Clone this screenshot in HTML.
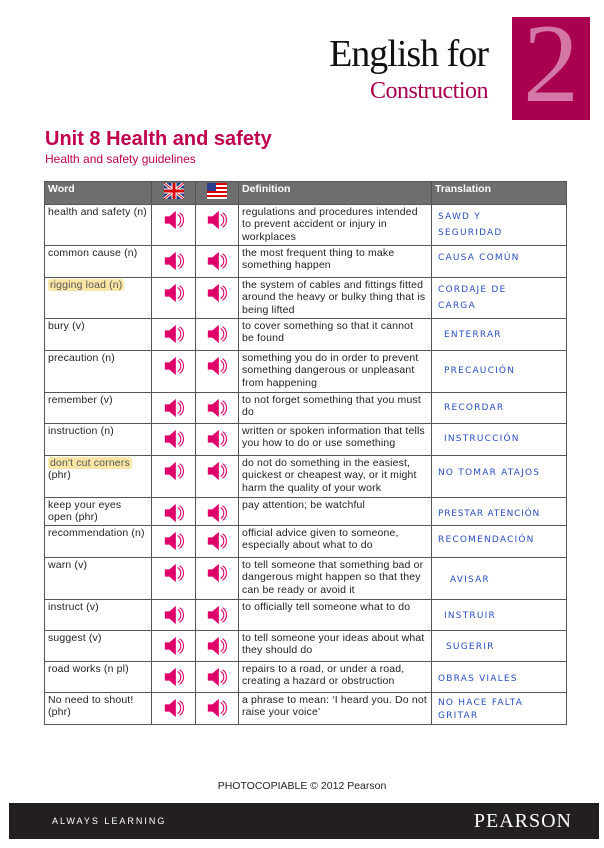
<!DOCTYPE html>
<html><head><meta charset="utf-8"><style>
body{margin:0;width:604px;height:848px;background:#fff;position:relative;font-family:"Liberation Sans",sans-serif;overflow:hidden}
.a{position:absolute}
table{position:absolute;left:44px;top:181px;border-collapse:collapse;width:522px;table-layout:fixed;font-size:10.5px;color:#222}
td,th{border:1.5px solid #555;vertical-align:top;padding:1px 3px;line-height:12.6px;text-align:left;overflow:hidden}
td{letter-spacing:0.15px}
th{background:#6d6e70;color:#fff;font-size:10.5px;height:19px;padding:1px 3px}
td.s{text-align:center;padding:3px 0 0;line-height:0}
.h{color:#2a4fc0;font-family:"DejaVu Sans",sans-serif;font-size:9px;letter-spacing:1.2px;line-height:16px;padding-left:6px;padding-top:4px}
.hl{background:#fbe6a6;border-radius:3px;padding:0 2px;color:#555}
</style></head><body>
<div class="a" style="left:512px;top:17px;width:78px;height:103px;background:#a8004f"></div>
<div class="a" style="left:514px;top:8px;width:74px;font-family:'Liberation Serif',serif;font-size:112px;line-height:112px;color:#d477a6;text-align:center">2</div>
<div class="a" style="left:300px;top:32px;width:188px;text-align:right;font-family:'Liberation Serif',serif;font-size:38px;color:#111;letter-spacing:-1px">English for</div>
<div class="a" style="left:300px;top:78px;width:188px;text-align:right;font-family:'Liberation Serif',serif;font-size:24px;color:#a8004f;letter-spacing:-0.5px">Construction</div>
<div class="a" style="left:45px;top:128px;font-size:20px;font-weight:bold;color:#c0004f">Unit 8 Health and safety</div>
<div class="a" style="left:45px;top:152px;font-size:12px;color:#c0004f">Health and safety guidelines</div>
<svg width="0" height="0" style="position:absolute"><defs><symbol id="sp" viewBox="0 0 24 24"><path d="M2 8h5l7-6v20l-7-6H2z" fill="#e0006a"/><path d="M16 6a7 7 0 0 1 0 12M18 4a9.5 9.5 0 0 1 0 16" fill="none" stroke="#e0006a" stroke-width="1.2"/></symbol></defs></svg>
<table>
<colgroup><col style="width:107px"><col style="width:44px"><col style="width:43px"><col style="width:193px"><col style="width:135px"></colgroup>
<tr><th>Word</th><th style="text-align:center"><svg width="20" height="16"><rect width="20" height="16" fill="#1b3a8c"/><path d="M0 0L20 16M20 0L0 16" stroke="#fff" stroke-width="3"/><path d="M0 0L20 16M20 0L0 16" stroke="#d00" stroke-width="1"/><path d="M10 0V16M0 8H20" stroke="#fff" stroke-width="5"/><path d="M10 0V16M0 8H20" stroke="#d00" stroke-width="3"/></svg></th><th style="text-align:center"><svg width="20" height="16"><rect width="20" height="16" fill="#fff"/><g fill="#d00"><rect y="0" width="20" height="2"/><rect y="4" width="20" height="2"/><rect y="8" width="20" height="2"/><rect y="12" width="20" height="2"/></g><rect width="9" height="8" fill="#2a3d8f"/></svg></th><th>Definition</th><th>Translation</th></tr>
<tr style="height:41px"><td>health and safety (n)</td><td class="s"><svg width="22" height="24"><use href="#sp"/></svg></td><td class="s"><svg width="22" height="24"><use href="#sp"/></svg></td><td>regulations and procedures intended to prevent accident or injury in workplaces</td><td class="h">SAWD Y<br>SEGURIDAD</td></tr>
<tr style="height:32px"><td>common cause (n)</td><td class="s"><svg width="22" height="24"><use href="#sp"/></svg></td><td class="s"><svg width="22" height="24"><use href="#sp"/></svg></td><td>the most frequent thing to make something happen</td><td class="h">CAUSA COMÚN</td></tr>
<tr style="height:41px"><td><span class="hl">rigging load (n)</span></td><td class="s"><svg width="22" height="24"><use href="#sp"/></svg></td><td class="s"><svg width="22" height="24"><use href="#sp"/></svg></td><td>the system of cables and fittings fitted around the heavy or bulky thing that is being lifted</td><td class="h">CORDAJE DE<br>CARGA</td></tr>
<tr style="height:32px"><td>bury (v)</td><td class="s"><svg width="22" height="24"><use href="#sp"/></svg></td><td class="s"><svg width="22" height="24"><use href="#sp"/></svg></td><td>to cover something so that it cannot be found</td><td class="h" style="padding-left:12px;padding-top:8px">ENTERRAR</td></tr>
<tr style="height:42px"><td>precaution (n)</td><td class="s"><svg width="22" height="24"><use href="#sp"/></svg></td><td class="s"><svg width="22" height="24"><use href="#sp"/></svg></td><td>something you do in order to prevent something dangerous or unpleasant from happening</td><td class="h" style="padding-left:12px;padding-top:12px">PRECAUCIÓN</td></tr>
<tr style="height:31px"><td>remember (v)</td><td class="s"><svg width="22" height="24"><use href="#sp"/></svg></td><td class="s"><svg width="22" height="24"><use href="#sp"/></svg></td><td>to not forget something that you must do</td><td class="h" style="padding-left:12px;padding-top:7px">RECORDAR</td></tr>
<tr style="height:32px"><td>instruction (n)</td><td class="s"><svg width="22" height="24"><use href="#sp"/></svg></td><td class="s"><svg width="22" height="24"><use href="#sp"/></svg></td><td>written or spoken information that tells you how to do or use something</td><td class="h" style="padding-left:12px;padding-top:7px">INSTRUCCIÓN</td></tr>
<tr style="height:42px"><td><span class="hl">don't cut corners</span><br>(phr)</td><td class="s"><svg width="22" height="24"><use href="#sp"/></svg></td><td class="s"><svg width="22" height="24"><use href="#sp"/></svg></td><td>do not do something in the easiest, quickest or cheapest way, or it might harm the quality of your work</td><td class="h" style="padding-top:9px">NO TOMAR ATAJOS</td></tr>
<tr style="height:28px"><td>keep your eyes<br>open (phr)</td><td class="s"><svg width="22" height="24"><use href="#sp"/></svg></td><td class="s"><svg width="22" height="24"><use href="#sp"/></svg></td><td>pay attention; be watchful</td><td class="h" style="padding-top:8px;letter-spacing:0.8px">PRESTAR ATENCIÓN</td></tr>
<tr style="height:32px"><td>recommendation (n)</td><td class="s"><svg width="22" height="24"><use href="#sp"/></svg></td><td class="s"><svg width="22" height="24"><use href="#sp"/></svg></td><td>official advice given to someone, especially about what to do</td><td class="h" style="padding-top:6px">RECOMENDACIÓN</td></tr>
<tr style="height:42px"><td>warn (v)</td><td class="s"><svg width="22" height="24"><use href="#sp"/></svg></td><td class="s"><svg width="22" height="24"><use href="#sp"/></svg></td><td>to tell someone that something bad or dangerous might happen so that they can be ready or avoid it</td><td class="h" style="padding-left:18px;padding-top:14px">AVISAR</td></tr>
<tr style="height:31px"><td>instruct (v)</td><td class="s"><svg width="22" height="24"><use href="#sp"/></svg></td><td class="s"><svg width="22" height="24"><use href="#sp"/></svg></td><td>to officially tell someone what to do</td><td class="h" style="padding-left:12px;padding-top:8px">INSTRUIR</td></tr>
<tr style="height:31px"><td>suggest (v)</td><td class="s"><svg width="22" height="24"><use href="#sp"/></svg></td><td class="s"><svg width="22" height="24"><use href="#sp"/></svg></td><td>to tell someone your ideas about what they should do</td><td class="h" style="padding-left:14px;padding-top:8px">SUGERIR</td></tr>
<tr style="height:31px"><td>road works (n pl)</td><td class="s"><svg width="22" height="24"><use href="#sp"/></svg></td><td class="s"><svg width="22" height="24"><use href="#sp"/></svg></td><td>repairs to a road, or under a road, creating a hazard or obstruction</td><td class="h" style="padding-top:9px">OBRAS VIALES</td></tr>
<tr style="height:31px"><td>No need to shout!<br>(phr)</td><td class="s"><svg width="22" height="24"><use href="#sp"/></svg></td><td class="s"><svg width="22" height="24"><use href="#sp"/></svg></td><td>a phrase to mean: ‘I heard you. Do not raise your voice’</td><td class="h" style="line-height:13px;padding-top:4px">NO HACE FALTA<br>GRITAR</td></tr>
</table>
<div class="a" style="left:0;width:604px;top:780px;text-align:center;font-size:10.5px;color:#222">PHOTOCOPIABLE © 2012 Pearson</div>
<div class="a" style="left:9px;top:803px;width:590px;height:36px;background:#231f20"></div>
<div class="a" style="left:52px;top:816px;font-size:9px;letter-spacing:2px;color:#fff">ALWAYS LEARNING</div>
<div class="a" style="left:460px;top:810px;width:112px;text-align:right;font-family:'Liberation Serif',serif;font-size:20px;letter-spacing:1px;color:#fff">PEARSON</div>
</body></html>
